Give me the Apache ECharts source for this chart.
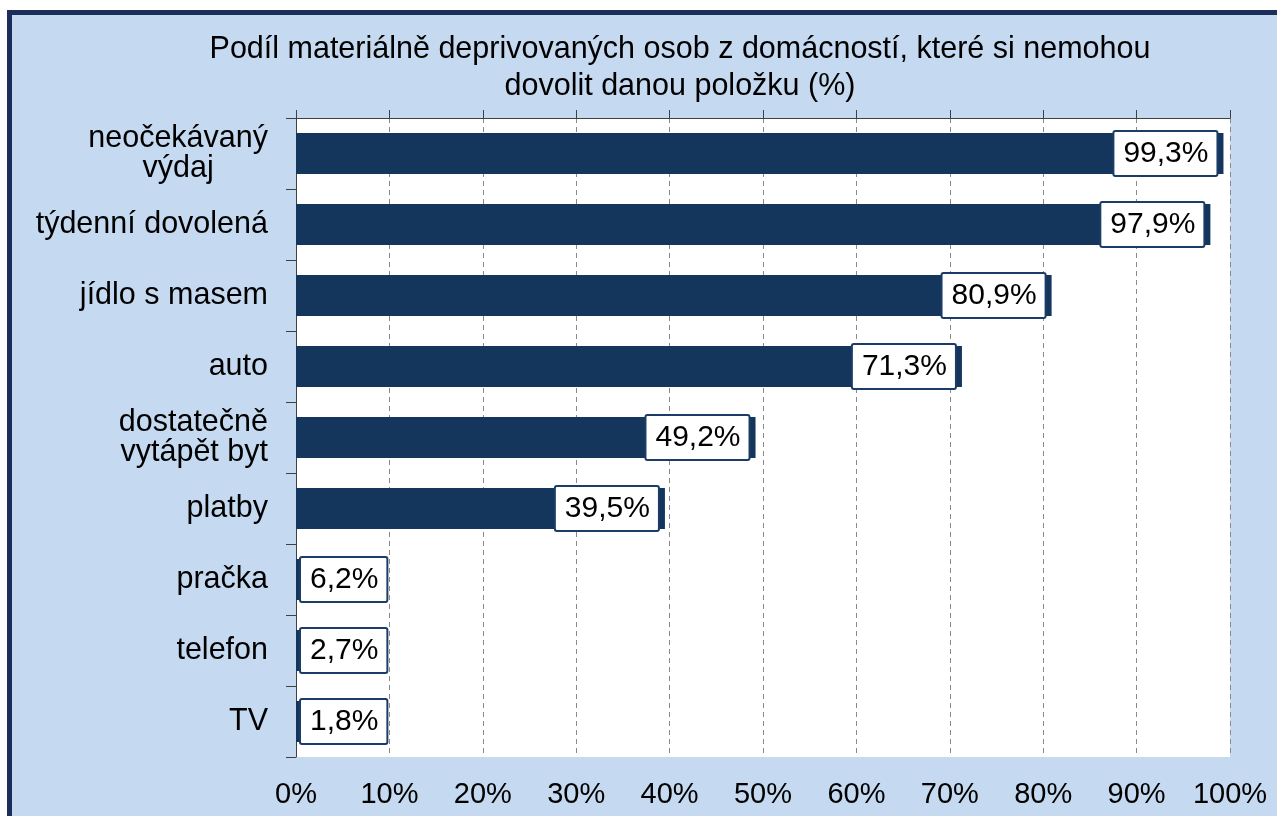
<!DOCTYPE html>
<html>
<head>
<meta charset="utf-8">
<style>
html,body{margin:0;padding:0;background:#ffffff;}
#chart{width:1277px;height:816px;}
</style>
<script src="https://cdn.jsdelivr.net/npm/echarts@6/dist/echarts.min.js"></script>
</head>
<body>
<div id="chart"></div>
<script>
// ---- data ----
const titleLines = ['Podíl materiálně deprivovaných osob z domácností, které si nemohou', 'dovolit danou položku (%)'];
const categories = ['neočekávaný\nvýdaj', 'týdenní dovolená', 'jídlo s masem', 'auto', 'dostatečně\nvytápět byt', 'platby', 'pračka', 'telefon', 'TV'];
const centeredCategories = ['neočekávaný\nvýdaj'];
const values = [99.3, 97.9, 80.9, 71.3, 49.2, 39.5, 6.2, 2.7, 1.8];
const xTicks = [0, 10, 20, 30, 40, 50, 60, 70, 80, 90, 100];

const FONT = '"Liberation Sans", Arial, sans-serif';
const BAR = '#14365d';
const AXIS = '#404040';

const chart = echarts.init(document.getElementById('chart'), null, {renderer: 'canvas'});

const seriesData = values.map(v => ({
  value: v,
  label: v < 10 ? {position: 'insideLeft', distance: 5} : {position: 'insideRight', distance: 7}
}));

const option = {
  animation: false,
  backgroundColor: '#ffffff',
  graphic: [
    {type: 'rect', z: -10, shape: {x: 9.5, y: 12.5, width: 1320, height: 900},
     style: {fill: '#c5d9f0', stroke: '#1c2f5a', lineWidth: 5}},
    {type: 'text', z: 10, x: 680, y: 68,
     style: {text: titleLines.join('\n'), font: '30.5px ' + FONT, fill: '#000', textAlign: 'center', textVerticalAlign: 'middle', lineHeight: 37}}
  ],
  grid: {left: 296, right: 47, top: 118, bottom: 59, containLabel: false, show: true, backgroundColor: '#ffffff', borderWidth: 0},
  xAxis: [
    {
      type: 'value', position: 'bottom', min: xTicks[0], max: xTicks[xTicks.length - 1], interval: 10,
      axisLine: {show: false}, axisTick: {show: false},
      splitLine: {show: true, lineStyle: {color: '#8a8a8a', width: 1, type: [5, 4]}},
      axisLabel: {formatter: v => v + '%', fontSize: 29, fontFamily: FONT, color: '#000', margin: 23}
    },
    {
      type: 'value', position: 'top', min: xTicks[0], max: xTicks[xTicks.length - 1], interval: 10,
      axisLine: {show: true, lineStyle: {color: AXIS, width: 1}},
      axisTick: {show: true, length: 8, lineStyle: {color: AXIS, width: 1}},
      axisLabel: {show: false}, splitLine: {show: false}
    }
  ],
  yAxis: {
    type: 'category', inverse: true, data: categories,
    axisLine: {show: true, lineStyle: {color: AXIS, width: 1}},
    axisTick: {show: true, length: 10, lineStyle: {color: AXIS, width: 1}},
    axisLabel: {
      fontSize: 30.5, fontFamily: FONT, color: '#000', margin: 28, lineHeight: 30,
      formatter: function (v) {
        if (centeredCategories.indexOf(v) >= 0) {
          return v.split('\n').map(s => '{c|' + s + '}').join('\n');
        }
        return v;
      },
      rich: {c: {align: 'center', fontSize: 30.5, fontFamily: FONT, color: '#000', lineHeight: 30}}
    },
    splitLine: {show: false}
  },
  series: [{
    type: 'bar', xAxisIndex: 0, data: seriesData, barWidth: 41,
    itemStyle: {color: BAR},
    label: {
      show: true, fontSize: 30, fontFamily: FONT, color: '#000',
      formatter: p => p.value.toFixed(1).replace('.', ',') + '%',
      backgroundColor: '#ffffff', borderColor: '#1a3c66', borderWidth: 2, borderRadius: 1,
      padding: [6, 8, 6, 9], lineHeight: 31
    }
  }]
};
chart.setOption(option);
</script>
</body>
</html>
